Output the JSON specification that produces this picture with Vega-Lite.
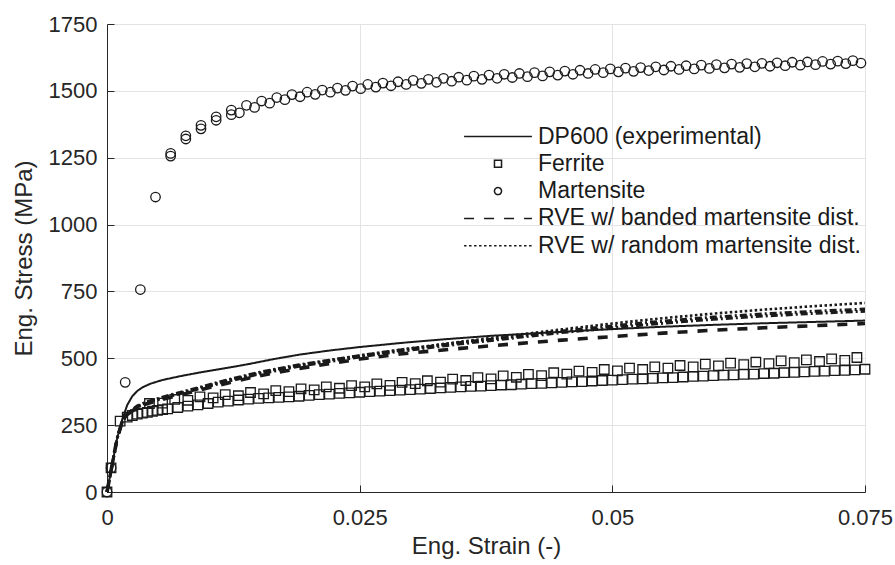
{
  "$schema": "https://vega.github.io/schema/vega-lite/v6.json",
  "width": 758,
  "height": 468,
  "autosize": {"type": "none"},
  "padding": {"left": 107, "top": 24, "right": 30, "bottom": 73},
  "background": "white",
  "config": {
    "view": {"stroke": null},
    "font": "Liberation Sans",
    "axis": {
      "domainColor": "#262626",
      "domainWidth": 1,
      "tickColor": "#262626",
      "tickSize": -7,
      "tickWidth": 1,
      "labelFont": "Liberation Sans",
      "labelFontSize": 22,
      "labelColor": "#262626",
      "labelFlush": false,
      "titleFont": "Liberation Sans",
      "titleFontSize": 24,
      "titleFontWeight": "normal",
      "titleColor": "#262626",
      "gridColor": "#e3e3e3",
      "gridWidth": 1
    },
    "axisX": {"labelPadding": 22, "titlePadding": 6},
    "axisY": {"labelPadding": 17, "titlePadding": 12},
    "legend": {
      "title": null, "orient": "none", "legendX": 379.5, "legendY": 101,
      "padding": 0, "rowPadding": 3.3, "symbolSize": 50, "labelOffset": 28.5, "labelLimit": 0,
      "labelFont": "Liberation Sans", "labelFontSize": 23, "labelColor": "#1a1a1a"
    }
  },
  "datasets": {
    "curves": [
      {"series": "DP600 (experimental)", "strain": 0, "stress": 0},
      {"series": "DP600 (experimental)", "strain": 0.0005, "stress": 100},
      {"series": "DP600 (experimental)", "strain": 0.001, "stress": 200},
      {"series": "DP600 (experimental)", "strain": 0.0015, "stress": 270},
      {"series": "DP600 (experimental)", "strain": 0.002, "stress": 325},
      {"series": "DP600 (experimental)", "strain": 0.0025, "stress": 358},
      {"series": "DP600 (experimental)", "strain": 0.003, "stress": 378},
      {"series": "DP600 (experimental)", "strain": 0.0035, "stress": 391},
      {"series": "DP600 (experimental)", "strain": 0.0043, "stress": 405},
      {"series": "DP600 (experimental)", "strain": 0.0055, "stress": 419},
      {"series": "DP600 (experimental)", "strain": 0.0075, "stress": 435},
      {"series": "DP600 (experimental)", "strain": 0.0092, "stress": 447},
      {"series": "DP600 (experimental)", "strain": 0.0125, "stress": 468},
      {"series": "DP600 (experimental)", "strain": 0.0141, "stress": 479},
      {"series": "DP600 (experimental)", "strain": 0.0165, "stress": 497},
      {"series": "DP600 (experimental)", "strain": 0.0191, "stress": 514},
      {"series": "DP600 (experimental)", "strain": 0.022, "stress": 529},
      {"series": "DP600 (experimental)", "strain": 0.025, "stress": 542},
      {"series": "DP600 (experimental)", "strain": 0.029, "stress": 557},
      {"series": "DP600 (experimental)", "strain": 0.033, "stress": 570},
      {"series": "DP600 (experimental)", "strain": 0.038, "stress": 584},
      {"series": "DP600 (experimental)", "strain": 0.045, "stress": 599},
      {"series": "DP600 (experimental)", "strain": 0.05, "stress": 609},
      {"series": "DP600 (experimental)", "strain": 0.055, "stress": 618},
      {"series": "DP600 (experimental)", "strain": 0.06, "stress": 625},
      {"series": "DP600 (experimental)", "strain": 0.065, "stress": 631},
      {"series": "DP600 (experimental)", "strain": 0.07, "stress": 636},
      {"series": "DP600 (experimental)", "strain": 0.075, "stress": 641},

      {"series": "RVE w/ banded martensite dist.", "strain": 0, "stress": 0},
      {"series": "RVE w/ banded martensite dist.", "strain": 0.0005, "stress": 100},
      {"series": "RVE w/ banded martensite dist.", "strain": 0.001, "stress": 200},
      {"series": "RVE w/ banded martensite dist.", "strain": 0.0015, "stress": 262},
      {"series": "RVE w/ banded martensite dist.", "strain": 0.002, "stress": 290},
      {"series": "RVE w/ banded martensite dist.", "strain": 0.003, "stress": 316},
      {"series": "RVE w/ banded martensite dist.", "strain": 0.004, "stress": 331},
      {"series": "RVE w/ banded martensite dist.", "strain": 0.006, "stress": 351},
      {"series": "RVE w/ banded martensite dist.", "strain": 0.009, "stress": 380},
      {"series": "RVE w/ banded martensite dist.", "strain": 0.012, "stress": 408},
      {"series": "RVE w/ banded martensite dist.", "strain": 0.015, "stress": 434},
      {"series": "RVE w/ banded martensite dist.", "strain": 0.019, "stress": 462},
      {"series": "RVE w/ banded martensite dist.", "strain": 0.025, "stress": 497},
      {"series": "RVE w/ banded martensite dist.", "strain": 0.029, "stress": 516},
      {"series": "RVE w/ banded martensite dist.", "strain": 0.035, "stress": 537},
      {"series": "RVE w/ banded martensite dist.", "strain": 0.04, "stress": 553},
      {"series": "RVE w/ banded martensite dist.", "strain": 0.045, "stress": 568},
      {"series": "RVE w/ banded martensite dist.", "strain": 0.05, "stress": 581},
      {"series": "RVE w/ banded martensite dist.", "strain": 0.055, "stress": 594},
      {"series": "RVE w/ banded martensite dist.", "strain": 0.06, "stress": 605},
      {"series": "RVE w/ banded martensite dist.", "strain": 0.065, "stress": 614},
      {"series": "RVE w/ banded martensite dist.", "strain": 0.07, "stress": 622},
      {"series": "RVE w/ banded martensite dist.", "strain": 0.075, "stress": 630},

      {"series": "RVE w/ random martensite dist.", "strain": 0, "stress": 0},
      {"series": "RVE w/ random martensite dist.", "strain": 0.0005, "stress": 100},
      {"series": "RVE w/ random martensite dist.", "strain": 0.001, "stress": 200},
      {"series": "RVE w/ random martensite dist.", "strain": 0.0015, "stress": 262},
      {"series": "RVE w/ random martensite dist.", "strain": 0.002, "stress": 292},
      {"series": "RVE w/ random martensite dist.", "strain": 0.003, "stress": 320},
      {"series": "RVE w/ random martensite dist.", "strain": 0.004, "stress": 336},
      {"series": "RVE w/ random martensite dist.", "strain": 0.006, "stress": 358},
      {"series": "RVE w/ random martensite dist.", "strain": 0.009, "stress": 388},
      {"series": "RVE w/ random martensite dist.", "strain": 0.012, "stress": 418},
      {"series": "RVE w/ random martensite dist.", "strain": 0.015, "stress": 445},
      {"series": "RVE w/ random martensite dist.", "strain": 0.019, "stress": 474},
      {"series": "RVE w/ random martensite dist.", "strain": 0.025, "stress": 510},
      {"series": "RVE w/ random martensite dist.", "strain": 0.029, "stress": 532},
      {"series": "RVE w/ random martensite dist.", "strain": 0.035, "stress": 562},
      {"series": "RVE w/ random martensite dist.", "strain": 0.04, "stress": 585},
      {"series": "RVE w/ random martensite dist.", "strain": 0.045, "stress": 608},
      {"series": "RVE w/ random martensite dist.", "strain": 0.05, "stress": 630},
      {"series": "RVE w/ random martensite dist.", "strain": 0.055, "stress": 650},
      {"series": "RVE w/ random martensite dist.", "strain": 0.06, "stress": 667},
      {"series": "RVE w/ random martensite dist.", "strain": 0.065, "stress": 682},
      {"series": "RVE w/ random martensite dist.", "strain": 0.07, "stress": 695},
      {"series": "RVE w/ random martensite dist.", "strain": 0.075, "stress": 707}
    ],
    "realizations": [
      {"run": "r2", "strain": 0, "stress": 0},
      {"run": "r2", "strain": 0.0005, "stress": 100},
      {"run": "r2", "strain": 0.001, "stress": 200},
      {"run": "r2", "strain": 0.0015, "stress": 262},
      {"run": "r2", "strain": 0.002, "stress": 294},
      {"run": "r2", "strain": 0.003, "stress": 322},
      {"run": "r2", "strain": 0.004, "stress": 338},
      {"run": "r2", "strain": 0.006, "stress": 360},
      {"run": "r2", "strain": 0.009, "stress": 390},
      {"run": "r2", "strain": 0.012, "stress": 420},
      {"run": "r2", "strain": 0.015, "stress": 447},
      {"run": "r2", "strain": 0.019, "stress": 476},
      {"run": "r2", "strain": 0.025, "stress": 510},
      {"run": "r2", "strain": 0.029, "stress": 531},
      {"run": "r2", "strain": 0.035, "stress": 559},
      {"run": "r2", "strain": 0.04, "stress": 580},
      {"run": "r2", "strain": 0.045, "stress": 602},
      {"run": "r2", "strain": 0.05, "stress": 621},
      {"run": "r2", "strain": 0.055, "stress": 639},
      {"run": "r2", "strain": 0.06, "stress": 654},
      {"run": "r2", "strain": 0.065, "stress": 666},
      {"run": "r2", "strain": 0.07, "stress": 676},
      {"run": "r2", "strain": 0.075, "stress": 684},
      {"run": "r3", "strain": 0, "stress": 0},
      {"run": "r3", "strain": 0.0005, "stress": 100},
      {"run": "r3", "strain": 0.001, "stress": 200},
      {"run": "r3", "strain": 0.0015, "stress": 262},
      {"run": "r3", "strain": 0.002, "stress": 291},
      {"run": "r3", "strain": 0.003, "stress": 318},
      {"run": "r3", "strain": 0.004, "stress": 334},
      {"run": "r3", "strain": 0.006, "stress": 355},
      {"run": "r3", "strain": 0.009, "stress": 385},
      {"run": "r3", "strain": 0.012, "stress": 414},
      {"run": "r3", "strain": 0.015, "stress": 441},
      {"run": "r3", "strain": 0.019, "stress": 470},
      {"run": "r3", "strain": 0.025, "stress": 505},
      {"run": "r3", "strain": 0.029, "stress": 526},
      {"run": "r3", "strain": 0.035, "stress": 554},
      {"run": "r3", "strain": 0.04, "stress": 575},
      {"run": "r3", "strain": 0.045, "stress": 596},
      {"run": "r3", "strain": 0.05, "stress": 614},
      {"run": "r3", "strain": 0.055, "stress": 631},
      {"run": "r3", "strain": 0.06, "stress": 646},
      {"run": "r3", "strain": 0.065, "stress": 658},
      {"run": "r3", "strain": 0.07, "stress": 668},
      {"run": "r3", "strain": 0.075, "stress": 676}
    ],
    "markers": [
      {"series": "Ferrite", "strain": 0, "stress": 0},
      {"series": "Ferrite", "strain": 0.0004, "stress": 90},
      {"series": "Ferrite", "strain": 0.0013, "stress": 265},
      {"series": "Ferrite", "strain": 0.002, "stress": 280},
      {"series": "Ferrite", "strain": 0.0025, "stress": 286},
      {"series": "Ferrite", "strain": 0.003, "stress": 291},
      {"series": "Ferrite", "strain": 0.0035, "stress": 295},
      {"series": "Ferrite", "strain": 0.004, "stress": 298},
      {"series": "Ferrite", "strain": 0.0045, "stress": 302},
      {"series": "Ferrite", "strain": 0.005, "stress": 305},
      {"series": "Ferrite", "strain": 0.0055, "stress": 308},
      {"series": "Ferrite", "strain": 0.006, "stress": 311},
      {"series": "Ferrite", "strain": 0.007, "stress": 316},
      {"series": "Ferrite", "strain": 0.008, "stress": 321},
      {"series": "Ferrite", "strain": 0.009, "stress": 326},
      {"series": "Ferrite", "strain": 0.010, "stress": 331},
      {"series": "Ferrite", "strain": 0.011, "stress": 336},
      {"series": "Ferrite", "strain": 0.012, "stress": 340},
      {"series": "Ferrite", "strain": 0.013, "stress": 344},
      {"series": "Ferrite", "strain": 0.014, "stress": 347},
      {"series": "Ferrite", "strain": 0.015, "stress": 350},
      {"series": "Ferrite", "strain": 0.016, "stress": 352},
      {"series": "Ferrite", "strain": 0.017, "stress": 354},
      {"series": "Ferrite", "strain": 0.018, "stress": 356},
      {"series": "Ferrite", "strain": 0.019, "stress": 358},
      {"series": "Ferrite", "strain": 0.020, "stress": 361},
      {"series": "Ferrite", "strain": 0.021, "stress": 364},
      {"series": "Ferrite", "strain": 0.022, "stress": 366},
      {"series": "Ferrite", "strain": 0.023, "stress": 369},
      {"series": "Ferrite", "strain": 0.024, "stress": 371},
      {"series": "Ferrite", "strain": 0.025, "stress": 373},
      {"series": "Ferrite", "strain": 0.026, "stress": 375},
      {"series": "Ferrite", "strain": 0.027, "stress": 377},
      {"series": "Ferrite", "strain": 0.028, "stress": 379},
      {"series": "Ferrite", "strain": 0.029, "stress": 381},
      {"series": "Ferrite", "strain": 0.030, "stress": 383},
      {"series": "Ferrite", "strain": 0.031, "stress": 385},
      {"series": "Ferrite", "strain": 0.032, "stress": 387},
      {"series": "Ferrite", "strain": 0.033, "stress": 389},
      {"series": "Ferrite", "strain": 0.034, "stress": 391},
      {"series": "Ferrite", "strain": 0.035, "stress": 393},
      {"series": "Ferrite", "strain": 0.036, "stress": 395},
      {"series": "Ferrite", "strain": 0.037, "stress": 396},
      {"series": "Ferrite", "strain": 0.038, "stress": 398},
      {"series": "Ferrite", "strain": 0.039, "stress": 400},
      {"series": "Ferrite", "strain": 0.040, "stress": 401},
      {"series": "Ferrite", "strain": 0.041, "stress": 403},
      {"series": "Ferrite", "strain": 0.042, "stress": 405},
      {"series": "Ferrite", "strain": 0.043, "stress": 406},
      {"series": "Ferrite", "strain": 0.044, "stress": 408},
      {"series": "Ferrite", "strain": 0.045, "stress": 410},
      {"series": "Ferrite", "strain": 0.046, "stress": 412},
      {"series": "Ferrite", "strain": 0.047, "stress": 413},
      {"series": "Ferrite", "strain": 0.048, "stress": 415},
      {"series": "Ferrite", "strain": 0.049, "stress": 417},
      {"series": "Ferrite", "strain": 0.050, "stress": 418},
      {"series": "Ferrite", "strain": 0.051, "stress": 420},
      {"series": "Ferrite", "strain": 0.052, "stress": 422},
      {"series": "Ferrite", "strain": 0.053, "stress": 423},
      {"series": "Ferrite", "strain": 0.054, "stress": 425},
      {"series": "Ferrite", "strain": 0.055, "stress": 427},
      {"series": "Ferrite", "strain": 0.056, "stress": 428},
      {"series": "Ferrite", "strain": 0.057, "stress": 430},
      {"series": "Ferrite", "strain": 0.058, "stress": 432},
      {"series": "Ferrite", "strain": 0.059, "stress": 433},
      {"series": "Ferrite", "strain": 0.060, "stress": 435},
      {"series": "Ferrite", "strain": 0.061, "stress": 437},
      {"series": "Ferrite", "strain": 0.062, "stress": 438},
      {"series": "Ferrite", "strain": 0.063, "stress": 440},
      {"series": "Ferrite", "strain": 0.064, "stress": 441},
      {"series": "Ferrite", "strain": 0.065, "stress": 443},
      {"series": "Ferrite", "strain": 0.066, "stress": 444},
      {"series": "Ferrite", "strain": 0.067, "stress": 446},
      {"series": "Ferrite", "strain": 0.068, "stress": 447},
      {"series": "Ferrite", "strain": 0.069, "stress": 449},
      {"series": "Ferrite", "strain": 0.070, "stress": 451},
      {"series": "Ferrite", "strain": 0.071, "stress": 452},
      {"series": "Ferrite", "strain": 0.072, "stress": 454},
      {"series": "Ferrite", "strain": 0.073, "stress": 455},
      {"series": "Ferrite", "strain": 0.074, "stress": 457},
      {"series": "Ferrite", "strain": 0.075, "stress": 459},

      {"series": "Ferrite", "strain": 0.0042, "stress": 331},
      {"series": "Ferrite", "strain": 0.0055, "stress": 332},
      {"series": "Ferrite", "strain": 0.0067, "stress": 346},
      {"series": "Ferrite", "strain": 0.0080, "stress": 343},
      {"series": "Ferrite", "strain": 0.0092, "stress": 356},
      {"series": "Ferrite", "strain": 0.0105, "stress": 352},
      {"series": "Ferrite", "strain": 0.0117, "stress": 364},
      {"series": "Ferrite", "strain": 0.0130, "stress": 360},
      {"series": "Ferrite", "strain": 0.0142, "stress": 372},
      {"series": "Ferrite", "strain": 0.0155, "stress": 367},
      {"series": "Ferrite", "strain": 0.0167, "stress": 379},
      {"series": "Ferrite", "strain": 0.0180, "stress": 375},
      {"series": "Ferrite", "strain": 0.0192, "stress": 386},
      {"series": "Ferrite", "strain": 0.0205, "stress": 382},
      {"series": "Ferrite", "strain": 0.0217, "stress": 393},
      {"series": "Ferrite", "strain": 0.0230, "stress": 388},
      {"series": "Ferrite", "strain": 0.0242, "stress": 398},
      {"series": "Ferrite", "strain": 0.0255, "stress": 393},
      {"series": "Ferrite", "strain": 0.0267, "stress": 404},
      {"series": "Ferrite", "strain": 0.0280, "stress": 399},
      {"series": "Ferrite", "strain": 0.0292, "stress": 410},
      {"series": "Ferrite", "strain": 0.0305, "stress": 405},
      {"series": "Ferrite", "strain": 0.0317, "stress": 416},
      {"series": "Ferrite", "strain": 0.0330, "stress": 411},
      {"series": "Ferrite", "strain": 0.0342, "stress": 422},
      {"series": "Ferrite", "strain": 0.0355, "stress": 417},
      {"series": "Ferrite", "strain": 0.0367, "stress": 428},
      {"series": "Ferrite", "strain": 0.0380, "stress": 423},
      {"series": "Ferrite", "strain": 0.0392, "stress": 434},
      {"series": "Ferrite", "strain": 0.0405, "stress": 429},
      {"series": "Ferrite", "strain": 0.0417, "stress": 440},
      {"series": "Ferrite", "strain": 0.0430, "stress": 435},
      {"series": "Ferrite", "strain": 0.0442, "stress": 446},
      {"series": "Ferrite", "strain": 0.0455, "stress": 441},
      {"series": "Ferrite", "strain": 0.0467, "stress": 452},
      {"series": "Ferrite", "strain": 0.0480, "stress": 447},
      {"series": "Ferrite", "strain": 0.0492, "stress": 458},
      {"series": "Ferrite", "strain": 0.0505, "stress": 453},
      {"series": "Ferrite", "strain": 0.0517, "stress": 463},
      {"series": "Ferrite", "strain": 0.0530, "stress": 458},
      {"series": "Ferrite", "strain": 0.0542, "stress": 468},
      {"series": "Ferrite", "strain": 0.0555, "stress": 463},
      {"series": "Ferrite", "strain": 0.0567, "stress": 473},
      {"series": "Ferrite", "strain": 0.0580, "stress": 468},
      {"series": "Ferrite", "strain": 0.0592, "stress": 478},
      {"series": "Ferrite", "strain": 0.0605, "stress": 472},
      {"series": "Ferrite", "strain": 0.0617, "stress": 482},
      {"series": "Ferrite", "strain": 0.0630, "stress": 476},
      {"series": "Ferrite", "strain": 0.0642, "stress": 486},
      {"series": "Ferrite", "strain": 0.0655, "stress": 480},
      {"series": "Ferrite", "strain": 0.0667, "stress": 490},
      {"series": "Ferrite", "strain": 0.0680, "stress": 484},
      {"series": "Ferrite", "strain": 0.0692, "stress": 494},
      {"series": "Ferrite", "strain": 0.0705, "stress": 488},
      {"series": "Ferrite", "strain": 0.0717, "stress": 498},
      {"series": "Ferrite", "strain": 0.0730, "stress": 492},
      {"series": "Ferrite", "strain": 0.0742, "stress": 503},

      {"series": "Martensite", "strain": 0, "stress": 0},
      {"series": "Martensite", "strain": 0.0004, "stress": 90},
      {"series": "Martensite", "strain": 0.0018, "stress": 410},
      {"series": "Martensite", "strain": 0.0033, "stress": 757},
      {"series": "Martensite", "strain": 0.0048, "stress": 1103},
      {"series": "Martensite", "strain": 0.0063, "stress": 1266},
      {"series": "Martensite", "strain": 0.0078, "stress": 1332},
      {"series": "Martensite", "strain": 0.0093, "stress": 1371},
      {"series": "Martensite", "strain": 0.0108, "stress": 1403},
      {"series": "Martensite", "strain": 0.0123, "stress": 1428},
      {"series": "Martensite", "strain": 0.0138, "stress": 1446},
      {"series": "Martensite", "strain": 0.0153, "stress": 1462},
      {"series": "Martensite", "strain": 0.0168, "stress": 1475},
      {"series": "Martensite", "strain": 0.0183, "stress": 1486},
      {"series": "Martensite", "strain": 0.0198, "stress": 1495},
      {"series": "Martensite", "strain": 0.0213, "stress": 1503},
      {"series": "Martensite", "strain": 0.0228, "stress": 1510},
      {"series": "Martensite", "strain": 0.0243, "stress": 1518},
      {"series": "Martensite", "strain": 0.0258, "stress": 1524},
      {"series": "Martensite", "strain": 0.0273, "stress": 1529},
      {"series": "Martensite", "strain": 0.0288, "stress": 1534},
      {"series": "Martensite", "strain": 0.0303, "stress": 1539},
      {"series": "Martensite", "strain": 0.0318, "stress": 1543},
      {"series": "Martensite", "strain": 0.0333, "stress": 1547},
      {"series": "Martensite", "strain": 0.0348, "stress": 1551},
      {"series": "Martensite", "strain": 0.0363, "stress": 1555},
      {"series": "Martensite", "strain": 0.0378, "stress": 1559},
      {"series": "Martensite", "strain": 0.0393, "stress": 1562},
      {"series": "Martensite", "strain": 0.0408, "stress": 1565},
      {"series": "Martensite", "strain": 0.0423, "stress": 1568},
      {"series": "Martensite", "strain": 0.0438, "stress": 1571},
      {"series": "Martensite", "strain": 0.0453, "stress": 1574},
      {"series": "Martensite", "strain": 0.0468, "stress": 1577},
      {"series": "Martensite", "strain": 0.0483, "stress": 1580},
      {"series": "Martensite", "strain": 0.0498, "stress": 1582},
      {"series": "Martensite", "strain": 0.0513, "stress": 1585},
      {"series": "Martensite", "strain": 0.0528, "stress": 1587},
      {"series": "Martensite", "strain": 0.0543, "stress": 1590},
      {"series": "Martensite", "strain": 0.0558, "stress": 1592},
      {"series": "Martensite", "strain": 0.0573, "stress": 1594},
      {"series": "Martensite", "strain": 0.0588, "stress": 1596},
      {"series": "Martensite", "strain": 0.0603, "stress": 1598},
      {"series": "Martensite", "strain": 0.0618, "stress": 1600},
      {"series": "Martensite", "strain": 0.0633, "stress": 1602},
      {"series": "Martensite", "strain": 0.0648, "stress": 1603},
      {"series": "Martensite", "strain": 0.0663, "stress": 1605},
      {"series": "Martensite", "strain": 0.0678, "stress": 1607},
      {"series": "Martensite", "strain": 0.0693, "stress": 1608},
      {"series": "Martensite", "strain": 0.0708, "stress": 1610},
      {"series": "Martensite", "strain": 0.0723, "stress": 1611},
      {"series": "Martensite", "strain": 0.0738, "stress": 1613},

      {"series": "Martensite", "strain": 0.0063, "stress": 1256},
      {"series": "Martensite", "strain": 0.0078, "stress": 1320},
      {"series": "Martensite", "strain": 0.0093, "stress": 1358},
      {"series": "Martensite", "strain": 0.0108, "stress": 1390},
      {"series": "Martensite", "strain": 0.0123, "stress": 1411},
      {"series": "Martensite", "strain": 0.0131, "stress": 1418},
      {"series": "Martensite", "strain": 0.0146, "stress": 1438},
      {"series": "Martensite", "strain": 0.0161, "stress": 1454},
      {"series": "Martensite", "strain": 0.0176, "stress": 1467},
      {"series": "Martensite", "strain": 0.0191, "stress": 1478},
      {"series": "Martensite", "strain": 0.0206, "stress": 1487},
      {"series": "Martensite", "strain": 0.0221, "stress": 1495},
      {"series": "Martensite", "strain": 0.0236, "stress": 1502},
      {"series": "Martensite", "strain": 0.0251, "stress": 1508},
      {"series": "Martensite", "strain": 0.0266, "stress": 1514},
      {"series": "Martensite", "strain": 0.0281, "stress": 1519},
      {"series": "Martensite", "strain": 0.0296, "stress": 1524},
      {"series": "Martensite", "strain": 0.0311, "stress": 1528},
      {"series": "Martensite", "strain": 0.0326, "stress": 1532},
      {"series": "Martensite", "strain": 0.0341, "stress": 1536},
      {"series": "Martensite", "strain": 0.0356, "stress": 1540},
      {"series": "Martensite", "strain": 0.0371, "stress": 1543},
      {"series": "Martensite", "strain": 0.0386, "stress": 1547},
      {"series": "Martensite", "strain": 0.0401, "stress": 1550},
      {"series": "Martensite", "strain": 0.0416, "stress": 1553},
      {"series": "Martensite", "strain": 0.0431, "stress": 1556},
      {"series": "Martensite", "strain": 0.0446, "stress": 1559},
      {"series": "Martensite", "strain": 0.0461, "stress": 1562},
      {"series": "Martensite", "strain": 0.0476, "stress": 1565},
      {"series": "Martensite", "strain": 0.0491, "stress": 1568},
      {"series": "Martensite", "strain": 0.0506, "stress": 1571},
      {"series": "Martensite", "strain": 0.0521, "stress": 1573},
      {"series": "Martensite", "strain": 0.0536, "stress": 1576},
      {"series": "Martensite", "strain": 0.0551, "stress": 1578},
      {"series": "Martensite", "strain": 0.0566, "stress": 1580},
      {"series": "Martensite", "strain": 0.0581, "stress": 1582},
      {"series": "Martensite", "strain": 0.0596, "stress": 1584},
      {"series": "Martensite", "strain": 0.0611, "stress": 1586},
      {"series": "Martensite", "strain": 0.0626, "stress": 1588},
      {"series": "Martensite", "strain": 0.0641, "stress": 1590},
      {"series": "Martensite", "strain": 0.0656, "stress": 1592},
      {"series": "Martensite", "strain": 0.0671, "stress": 1594},
      {"series": "Martensite", "strain": 0.0686, "stress": 1596},
      {"series": "Martensite", "strain": 0.0701, "stress": 1598},
      {"series": "Martensite", "strain": 0.0716, "stress": 1600},
      {"series": "Martensite", "strain": 0.0731, "stress": 1602},
      {"series": "Martensite", "strain": 0.0746, "stress": 1604}
    ]
  },
  "encoding": {
    "x": {
      "field": "strain",
      "type": "quantitative",
      "scale": {"domain": [0, 0.075], "nice": false},
      "axis": {
        "title": "Eng. Strain (-)",
        "values": [0, 0.025, 0.05, 0.075],
        "labelExpr": "datum.value === 0 ? '0' : format(datum.value, '.3~f')"
      }
    },
    "y": {
      "field": "stress",
      "type": "quantitative",
      "scale": {"domain": [0, 1750], "nice": false},
      "axis": {"title": "Eng. Stress (MPa)", "values": [0, 250, 500, 750, 1000, 1250, 1500, 1750], "format": "d"}
    }
  },
  "layer": [
    {
      "data": {"name": "realizations"},
      "mark": {"type": "line", "color": "#1a1a1a", "strokeWidth": 3, "strokeDash": [7, 3, 2, 3]},
      "encoding": {"detail": {"field": "run", "type": "nominal"}}
    },
    {
      "data": {"name": "curves"},
      "transform": [{"filter": "datum.series === 'RVE w/ random martensite dist.'"}],
      "mark": {"type": "line", "color": "#1a1a1a", "strokeWidth": 2.6},
      "encoding": {
        "strokeDash": {
          "field": "series", "type": "nominal",
          "scale": {
            "domain": ["DP600 (experimental)", "Ferrite", "Martensite", "RVE w/ banded martensite dist.", "RVE w/ random martensite dist."],
            "range": [[1, 0], [1, 0], [1, 0], [10, 10], [2.5, 2.5]]
          },
          "legend": {
            "encode": {"symbols": {"update": {
              "fill": {"value": "transparent"},
              "stroke": {"value": "#1a1a1a"},
              "strokeWidth": {"signal": "datum.value === 'Ferrite' || datum.value === 'Martensite' ? 1.2 : (datum.value === 'RVE w/ banded martensite dist.' ? 3 : 2)"}
            }}}
          }
        }
      }
    },
    {
      "data": {"name": "curves"},
      "transform": [{"filter": "datum.series === 'RVE w/ banded martensite dist.'"}],
      "mark": {"type": "line", "color": "#1a1a1a", "strokeWidth": 3.6},
      "encoding": {
        "strokeDash": {
          "field": "series", "type": "nominal",
          "scale": {
            "domain": ["DP600 (experimental)", "Ferrite", "Martensite", "RVE w/ banded martensite dist.", "RVE w/ random martensite dist."],
            "range": [[1, 0], [1, 0], [1, 0], [10, 10], [2.5, 2.5]]
          },
          "legend": {
            "encode": {"symbols": {"update": {
              "fill": {"value": "transparent"},
              "stroke": {"value": "#1a1a1a"},
              "strokeWidth": {"signal": "datum.value === 'Ferrite' || datum.value === 'Martensite' ? 1.2 : (datum.value === 'RVE w/ banded martensite dist.' ? 3 : 2)"}
            }}}
          }
        }
      }
    },
    {
      "data": {"name": "curves"},
      "transform": [{"filter": "datum.series === 'DP600 (experimental)'"}],
      "mark": {"type": "line", "color": "#1a1a1a", "strokeWidth": 2},
      "encoding": {
        "strokeDash": {
          "field": "series", "type": "nominal",
          "scale": {
            "domain": ["DP600 (experimental)", "Ferrite", "Martensite", "RVE w/ banded martensite dist.", "RVE w/ random martensite dist."],
            "range": [[1, 0], [1, 0], [1, 0], [10, 10], [2.5, 2.5]]
          },
          "legend": {
            "encode": {"symbols": {"update": {
              "fill": {"value": "transparent"},
              "stroke": {"value": "#1a1a1a"},
              "strokeWidth": {"signal": "datum.value === 'Ferrite' || datum.value === 'Martensite' ? 1.2 : (datum.value === 'RVE w/ banded martensite dist.' ? 3 : 2)"}
            }}}
          }
        }
      }
    },
    {
      "data": {"name": "markers"},
      "mark": {"type": "point", "filled": false, "color": "#1a1a1a", "strokeWidth": 1.3, "size": 90, "opacity": 1},
      "encoding": {
        "shape": {
          "field": "series", "type": "nominal",
          "scale": {
            "domain": ["DP600 (experimental)", "Ferrite", "Martensite", "RVE w/ banded martensite dist.", "RVE w/ random martensite dist."],
            "range": ["M-9.6,0H9.6", "square", "circle", "M-9.6,0H9.6", "M-9.6,0H9.6"]
          },
          "legend": {
            "encode": {"symbols": {"update": {
              "fill": {"value": "transparent"},
              "stroke": {"value": "#1a1a1a"},
              "strokeWidth": {"signal": "datum.value === 'Ferrite' || datum.value === 'Martensite' ? 1.2 : (datum.value === 'RVE w/ banded martensite dist.' ? 3 : 2)"}
            }}}
          }
        }
      }
    }
  ]
}
